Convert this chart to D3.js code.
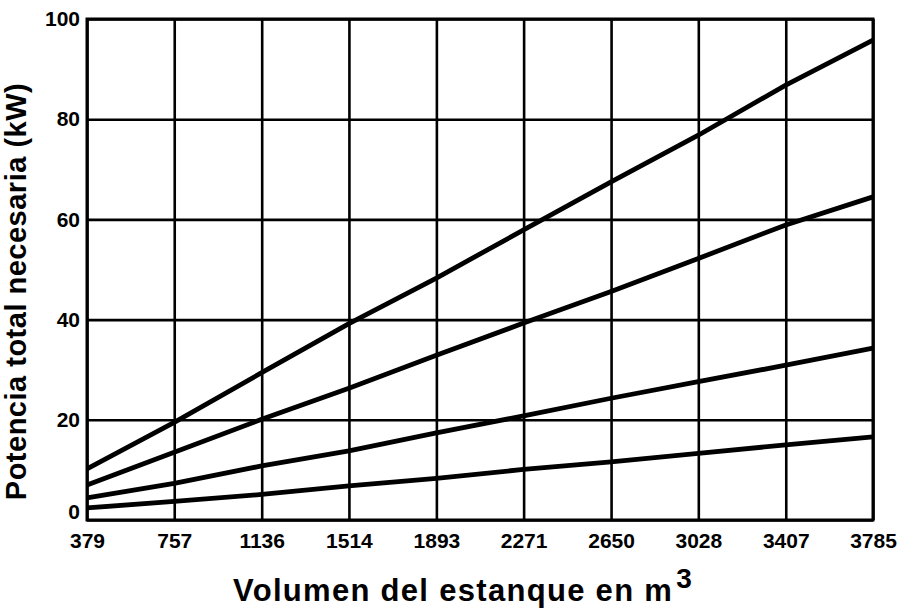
<!DOCTYPE html>
<html>
<head>
<meta charset="utf-8">
<script src="https://cdn.jsdelivr.net/npm/d3@7"></script>
<style>
  html, body { margin: 0; padding: 0; background: #fff; }
  svg { display: block; }
  text { font-family: "Liberation Sans", Arial, sans-serif; font-weight: bold; fill: #000; }
</style>
</head>
<body>
<svg id="chart" width="903" height="609"></svg>
<script>
// Tank volume (m³) at each grid column
const volumes = [379, 757, 1136, 1514, 1893, 2271, 2650, 3028, 3407, 3785];
// Power axis ticks (kW)
const powerTicks = [0, 20, 40, 60, 80, 100];

// Total power required (kW) for four aeration curves, read at each volume
const curveA = [10.2, 19.5, 29.4, 39.2, 48.3, 57.9, 67.5, 76.8, 86.8, 95.8];
const curveB = [7.0, 13.5, 20.1, 26.3, 32.9, 39.3, 45.6, 52.2, 58.9, 64.5];
const curveC = [4.4, 7.3, 10.8, 13.8, 17.4, 20.8, 24.3, 27.6, 30.9, 34.3];
const curveD = [2.4, 3.7, 5.1, 6.8, 8.3, 10.1, 11.6, 13.3, 15.0, 16.6];
const curves = [curveA, curveB, curveC, curveD];

const xLabel = "Volumen del estanque en m";
const xLabelSup = "3";
const yLabel = "Potencia total necesaria (kW)";

const svg = d3.select("#chart");
const plot = { left: 87, right: 873, top: 19, bottom: 520 };

const x = d3.scaleLinear().domain([379, 3785]).range([plot.left, plot.right]);
const y = d3.scaleLinear().domain([0, 100]).range([plot.bottom, plot.top]);

// Grid: vertical lines at each volume tick
const gridX = d3.axisBottom(x)
  .tickValues(volumes)
  .tickSize(-(plot.bottom - plot.top))
  .tickFormat("");
svg.append("g")
  .attr("transform", `translate(0,${plot.bottom})`)
  .call(gridX)
  .call(g => g.select(".domain").remove())
  .call(g => g.selectAll("line").attr("stroke", "#000").attr("stroke-width", 2.6));

// Grid: horizontal lines at each power tick
const gridY = d3.axisLeft(y)
  .tickValues(powerTicks)
  .tickSize(-(plot.right - plot.left))
  .tickFormat("");
svg.append("g")
  .attr("transform", `translate(${plot.left},0)`)
  .call(gridY)
  .call(g => g.select(".domain").remove())
  .call(g => g.selectAll("line").attr("stroke", "#000").attr("stroke-width", 2.6));

// Frame
svg.append("rect")
  .attr("x", plot.left).attr("y", plot.top)
  .attr("width", plot.right - plot.left)
  .attr("height", plot.bottom - plot.top)
  .attr("fill", "none").attr("stroke", "#000").attr("stroke-width", 3);

// Tick labels
const labelStyle = g => g.selectAll("text")
  .style("font-size", "21px")
  .style("font-family", "'Liberation Sans', Arial, sans-serif")
  .style("font-weight", "bold")
  .attr("fill", "#000");

const xAxis = d3.axisBottom(x).tickValues(volumes).tickSize(0).tickPadding(13).tickFormat(d3.format("d"));
svg.append("g")
  .attr("transform", `translate(0,${plot.bottom})`)
  .call(xAxis)
  .call(g => g.select(".domain").remove())
  .call(labelStyle);

const yAxis = d3.axisLeft(y).tickValues(powerTicks).tickSize(0).tickPadding(7).tickFormat(d3.format("d"));
svg.append("g")
  .attr("transform", `translate(${plot.left},0)`)
  .call(yAxis)
  .call(g => g.select(".domain").remove())
  .call(labelStyle)
  // the zero label sits a little above the bottom edge of the frame
  .call(g => g.selectAll(".tick").filter(d => d === 0).select("text").attr("dy", "-0.05em"));

// Power curves
const line = d3.line()
  .x((d, i) => x(volumes[i]))
  .y(d => y(d));
svg.append("g")
  .selectAll("path")
  .data(curves)
  .join("path")
  .attr("d", line)
  .attr("fill", "none")
  .attr("stroke", "#000")
  .attr("stroke-width", 4.8)
  .attr("stroke-linecap", "butt");

// Axis titles
const xt = svg.append("text")
  .attr("x", 463)
  .attr("y", 601)
  .attr("text-anchor", "middle")
  .style("font-size", "31px")
  .style("letter-spacing", "1.3px");
xt.append("tspan").text(xLabel);
xt.append("tspan").attr("dy", -13).attr("dx", 3).style("font-size", "28px").text(xLabelSup);

svg.append("text")
  .attr("transform", `translate(26,${(plot.top + plot.bottom) / 2 + 22}) rotate(-90)`)
  .attr("text-anchor", "middle")
  .style("font-size", "29px")
  .style("letter-spacing", "0.5px")
  .text(yLabel);
</script>
</body>
</html>
